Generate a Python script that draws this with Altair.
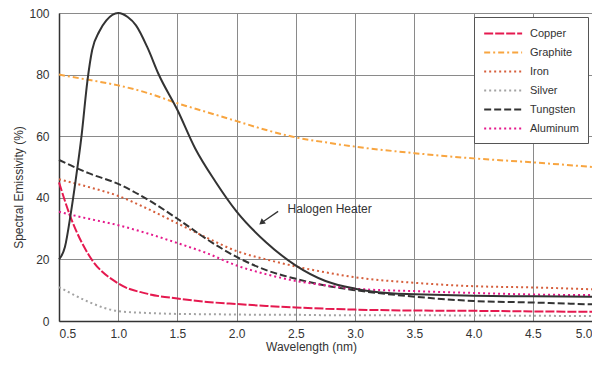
import altair as alt
import pandas as pd

# ---------------- data ----------------
series_names = ["Copper", "Graphite", "Iron", "Silver", "Tungsten", "Aluminum"]
series_colors = ["#E5194F", "#F8A540", "#D65F3C", "#A3A3A3", "#333333", "#E5188C"]
series_dashes = [[9, 2], [6, 3, 2, 3], [2, 3], [2, 3], [7, 3], [2, 3]]

wavelength = [0.5, 0.6, 0.75, 1.0, 1.25, 1.5, 1.75, 2.0, 2.25, 2.5, 2.75, 3.0, 3.5, 4.0, 4.5, 5.0]
copper   = [45.0, 33.5, 21.5, 12.2, 8.8, 7.3, 6.2, 5.5, 4.9, 4.4, 4.0, 3.7, 3.4, 3.3, 3.1, 3.0]
graphite = [80.0, 79.3, 78.3, 76.5, 74.0, 70.7, 67.8, 64.9, 62.0, 59.6, 58.0, 56.6, 54.5, 52.8, 51.5, 50.0]
iron     = [46.0, 45.0, 43.5, 40.6, 36.4, 31.7, 27.0, 22.7, 20.0, 17.7, 15.8, 14.2, 12.4, 11.3, 10.9, 10.3]
silver   = [11.0, 9.0, 6.2, 3.2, 2.6, 2.3, 2.2, 2.1, 2.0, 2.0, 1.9, 1.9, 1.85, 1.8, 1.7, 1.6]
tungsten = [52.3, 50.5, 48.0, 44.5, 39.4, 33.2, 26.5, 20.8, 16.5, 13.7, 11.5, 10.0, 7.9, 6.5, 6.0, 5.4]
aluminum = [35.5, 34.5, 33.2, 31.1, 28.4, 25.3, 22.0, 18.0, 15.2, 13.0, 11.6, 10.5, 9.7, 9.1, 8.6, 8.4]
series_values = [copper, graphite, iron, silver, tungsten, aluminum]

halogen_x = [0.5, 0.55, 0.6, 0.64, 0.69, 0.74, 0.78, 0.84, 0.9, 1.0, 1.08, 1.15, 1.25, 1.34,
             1.5, 1.65, 1.82, 2.0, 2.25, 2.5, 2.75, 3.0, 3.3, 3.5, 4.0, 4.5, 5.0]
halogen_y = [20, 24, 35, 45.5, 60, 78, 88, 94, 97.6, 100, 98.7, 96, 88.5, 80.2,
             68.5, 56, 45.3, 35.5, 25.5, 18, 13, 10.5, 9, 8.7, 8.2, 8.0, 7.9]

x_ticks = [0.5, 1.0, 1.5, 2.0, 2.5, 3.0, 3.5, 4.0, 4.5, 5.0]
y_ticks = [0, 20, 40, 60, 80, 100]

label_text = ["Halogen Heater"]
label_pos = [(2.43, 36.4)]
arrow_from = [(2.35, 35.6)]
arrow_to = [(2.21, 31.9)]

# ---------------- tables ----------------
rows = []
for name, vals in zip(series_names, series_values):
    for x, y in zip(wavelength, vals):
        rows.append({"series": name, "wavelength": x, "emissivity": y})
df = pd.DataFrame(rows)
halogen = pd.DataFrame({"wavelength": halogen_x, "emissivity": halogen_y})
label_df = pd.DataFrame({"text": label_text, "x": [p[0] for p in label_pos], "y": [p[1] for p in label_pos]})
arrow_df = pd.DataFrame({"x": [p[0] for p in arrow_from], "y": [p[1] for p in arrow_from],
                         "x2": [p[0] for p in arrow_to], "y2": [p[1] for p in arrow_to]})

FONT = "Liberation Sans"

xscale = alt.Scale(domain=[0.5, 5.0], nice=False, zero=False)
yscale = alt.Scale(domain=[0, 100], nice=False)

x_enc = alt.X("wavelength:Q", scale=xscale,
              axis=alt.Axis(values=x_ticks, format=".1f", title="Wavelength (nm)",
                            labelFlush=True, ticks=False, labelPadding=7,
                            titleX=252, titlePadding=2))
y_enc = alt.Y("emissivity:Q", scale=yscale,
              axis=alt.Axis(values=y_ticks, title="Spectral Emissivity (%)", ticks=False,
                            labelPadding=10, titleX=-41, titleY=174, titleAngle=270,
                            titleAlign="center", titleBaseline="middle"))

# legend symbol: a horizontal stroke running from the symbol's left edge rightwards
legend = alt.Legend(title=None, orient="none", legendX=415, legendY=4,
                    symbolType="M-1,0H5", symbolSize=160, symbolStrokeWidth=2,
                    labelFontSize=11, labelFont=FONT, labelColor="#333",
                    fillColor="white", strokeColor="#555", padding=9,
                    rowPadding=6, labelOffset=32)

materials = alt.Chart(df).mark_line(strokeWidth=2, interpolate="monotone").encode(
    x=x_enc, y=y_enc,
    color=alt.Color("series:N", scale=alt.Scale(domain=series_names, range=series_colors),
                    sort=series_names, legend=legend),
    strokeDash=alt.StrokeDash("series:N", scale=alt.Scale(domain=series_names, range=series_dashes),
                              sort=series_names, legend=legend),
)

halo = alt.Chart(halogen).mark_line(strokeWidth=2, color="#333", interpolate="monotone").encode(
    x="wavelength:Q", y="emissivity:Q")

arrow_line = alt.Chart(arrow_df).mark_rule(color="#333", strokeWidth=1.3).encode(
    x="x:Q", y="y:Q", x2="x2:Q", y2="y2:Q")
arrow_head = alt.Chart(arrow_df).mark_point(shape="triangle-up", filled=True, color="#333",
                                            size=45, angle=231, opacity=1).encode(
    x="x2:Q", y="y2:Q")

label = alt.Chart(label_df).mark_text(align="left", baseline="middle", fontSize=12,
                                      font=FONT, color="#333").encode(
    x="x:Q", y="y:Q", text="text:N")

chart = alt.layer(materials, halo, arrow_line, arrow_head, label).properties(
    width=533, height=308,
    autosize="none",
    padding={"left": 51, "top": 5, "right": 0, "bottom": 33},
).configure_view(stroke=None).configure_axis(
    labelFont=FONT, titleFont=FONT, labelFontSize=12, titleFontSize=12,
    labelColor="#333", titleColor="#333", titleFontWeight="normal",
    gridColor="#8a8a8a", gridWidth=1, gridOpacity=1,
    domainColor="#333", domainWidth=1.5,
)

chart.save("out.html", embed_options={"renderer": "svg", "actions": False})
